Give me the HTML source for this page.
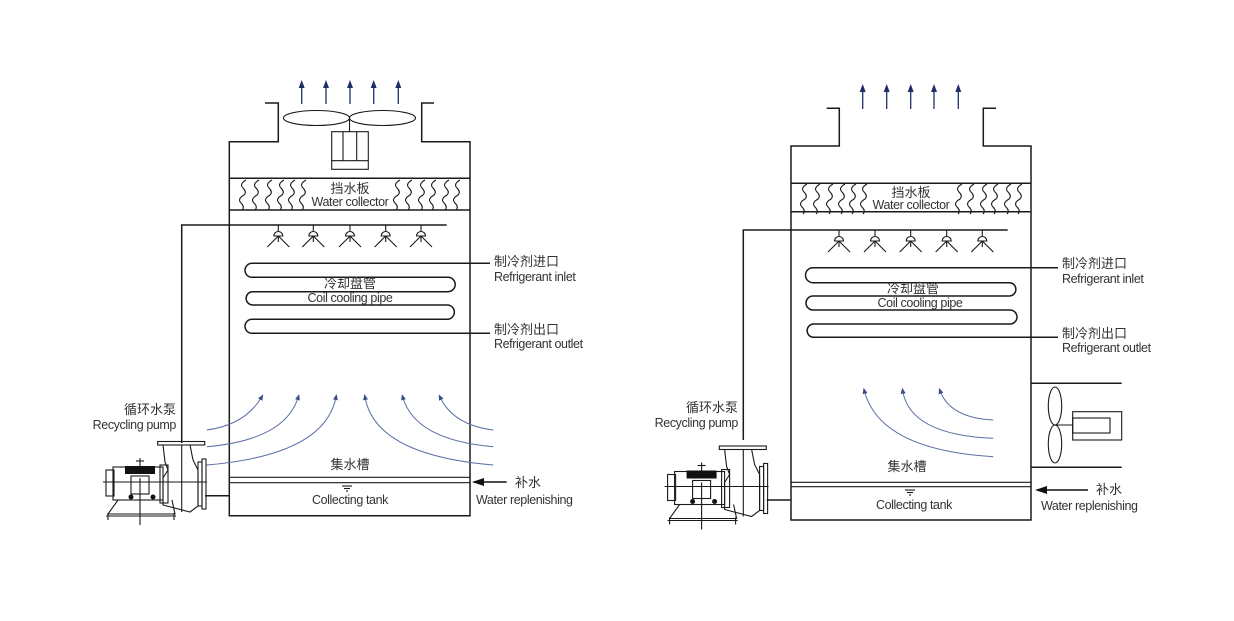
<!DOCTYPE html>
<html><head><meta charset="utf-8"><style>
html,body{margin:0;padding:0;background:#fff;}
svg{display:block;}
text{font-family:"Liberation Sans","Noto Sans CJK SC",sans-serif;fill:#333;}
.l{stroke:#1a1a1a;stroke-width:1.5;fill:none;}
.t{stroke:#1a1a1a;stroke-width:1.1;fill:none;}
.air{stroke:#5a6fa4;stroke-width:1;fill:none;}
.up{stroke:#1f2f66;stroke-width:1.3;fill:none;}
</style></head><body>
<svg width="1234" height="621" viewBox="0 0 1234 621" xmlns="http://www.w3.org/2000/svg">
<defs>
<marker id="ah" markerWidth="8" markerHeight="8" refX="4" refY="4" orient="auto" markerUnits="userSpaceOnUse">
<path d="M0,1 L8,4 L0,7 Z" fill="#1f2f66"/></marker>
<marker id="aa" markerWidth="6" markerHeight="6" refX="3" refY="3" orient="auto" markerUnits="userSpaceOnUse">
<path d="M0,0.5 L6,3 L0,5.5 Z" fill="#3a4f88"/></marker>
<marker id="ak" markerWidth="12" markerHeight="10" refX="10" refY="5" orient="auto" markerUnits="userSpaceOnUse">
<path d="M0,1 L12,5 L0,9 Z" fill="#111"/></marker>
<g id="noz">
<line class="t" x1="0" y1="0" x2="0" y2="6"/>
<path class="t" d="M-4.5,11 A4.5,4.5 0 1 1 4.5,11 Z"/>
<line class="t" x1="0" y1="11" x2="-11" y2="22"/>
<line class="t" x1="0" y1="11" x2="11" y2="22"/>
<line class="t" x1="0" y1="11" x2="0" y2="17"/>
</g>
<path id="wv" class="t" d="M2,180 q-7,4 -3,8 q4,4 1,7 q-7,4 -3,8 q4,4 1,7"/>
<g id="pump">
<rect x="157.7" y="441.5" width="47" height="3.5" class="t"/>
<path class="t" d="M163,445 L165,462 L168,470 L163,478 L163,505 L190,512 L198,506 L198,470 L193,460 L190,445"/>
<line class="t" x1="181.7" y1="445" x2="181.7" y2="512"/>
<rect x="198" y="462" width="4" height="44" class="t"/>
<rect x="202" y="459" width="4" height="50" class="t"/>
<rect x="113" y="467" width="50" height="33" class="t"/>
<rect x="106" y="470" width="8" height="26" class="t"/>
<rect x="125" y="466" width="30" height="8" fill="#111"/>
<line class="t" x1="140" y1="458" x2="140" y2="466"/>
<line class="t" x1="136" y1="461" x2="144" y2="461"/>
<rect x="131" y="476" width="18" height="18" class="t"/>
<rect x="160" y="465" width="8" height="38" class="t"/>
<circle cx="131" cy="497" r="2.5" fill="#111"/><circle cx="153" cy="497" r="2.5" fill="#111"/>
<line class="t" x1="103" y1="482" x2="207" y2="482"/>
<line class="t" x1="140" y1="478" x2="140" y2="525"/>
<path class="t" d="M118,500 L108,514 L175,514 L172,500"/>
<line class="t" x1="106" y1="516" x2="176" y2="516"/>
<line class="t" x1="108" y1="513" x2="108" y2="520"/><line class="t" x1="174" y1="513" x2="174" y2="520"/>
</g>
</defs>

<!-- ================= LEFT ================= -->
<g>
<path class="l" d="M265,103 H278.3 V141.7 H229.3 V515.7 H470 V141.7 H421.7 V103 H434"/>
<g class="up">
<line x1="301.7" y1="104" x2="301.7" y2="84" marker-end="url(#ah)"/>
<line x1="326" y1="104" x2="326" y2="84" marker-end="url(#ah)"/>
<line x1="350" y1="104" x2="350" y2="84" marker-end="url(#ah)"/>
<line x1="373.7" y1="104" x2="373.7" y2="84" marker-end="url(#ah)"/>
<line x1="398.3" y1="104" x2="398.3" y2="84" marker-end="url(#ah)"/>
</g>
<ellipse class="t" cx="316.5" cy="118" rx="33" ry="7.5"/>
<ellipse class="t" cx="382.5" cy="118" rx="33" ry="7.5"/>
<line class="t" x1="349.5" y1="118" x2="349.5" y2="131.7"/>
<rect class="t" x="331.7" y="131.7" width="36.6" height="37.6"/>
<line class="t" x1="331.7" y1="160.7" x2="368.3" y2="160.7"/>
<line class="t" x1="343" y1="131.7" x2="343" y2="160.7"/>
<line class="t" x1="356.7" y1="131.7" x2="356.7" y2="160.7"/>
<line class="l" x1="229.3" y1="178.3" x2="470" y2="178.3"/>
<line class="l" x1="229.3" y1="210" x2="470" y2="210"/>
<use href="#wv" x="244"/><use href="#wv" x="257"/><use href="#wv" x="270"/><use href="#wv" x="282"/><use href="#wv" x="293"/><use href="#wv" x="304"/>
<use href="#wv" x="398"/><use href="#wv" x="410"/><use href="#wv" x="423"/><use href="#wv" x="434"/><use href="#wv" x="447"/><use href="#wv" x="458"/>
<text x="350" y="193" font-size="13" text-anchor="middle">挡水板</text>
<text x="350" y="206" font-size="12.5" text-anchor="middle" letter-spacing="-0.4">Water collector</text>
<path class="l" d="M446.7,225 H181.7 V443"/>
<use href="#noz" x="278.3" y="225"/><use href="#noz" x="313.3" y="225"/><use href="#noz" x="350" y="225"/><use href="#noz" x="385.7" y="225"/><use href="#noz" x="421" y="225"/>
<path class="l" d="M490,263.3 H252 A7,7 0 0 0 252,277.3 H448 A7.2,7.2 0 0 1 448,291.7 H252 A6.7,6.7 0 0 0 252,305 H448 A7.2,7.2 0 0 1 448,319.3 H252 A7,7 0 0 0 252,333.3 H490"/>
<text x="350" y="288" font-size="13" text-anchor="middle">冷却盘管</text>
<text x="350" y="302" font-size="12.5" text-anchor="middle" letter-spacing="-0.4">Coil cooling pipe</text>
<text x="494" y="266" font-size="13">制冷剂进口</text>
<text x="494" y="281" font-size="12.5" letter-spacing="-0.4">Refrigerant inlet</text>
<text x="494" y="334" font-size="13">制冷剂出口</text>
<text x="494" y="348" font-size="12.5" letter-spacing="-0.4">Refrigerant outlet</text>
<g class="air">
<path d="M206.7,430 Q245,425 261.7,397" marker-end="url(#aa)"/>
<path d="M206.7,446.7 Q285,440 298.3,397" marker-end="url(#aa)"/>
<path d="M206.7,465 Q325,455 336,397" marker-end="url(#aa)"/>
<path d="M493.3,465 Q375,455 365,397" marker-end="url(#aa)"/>
<path d="M493.3,446.7 Q415,440 402.7,397" marker-end="url(#aa)"/>
<path d="M493.3,430 Q453,425 440,397" marker-end="url(#aa)"/>
</g>
<line class="t" x1="229.3" y1="477.3" x2="470" y2="477.3"/>
<line class="t" x1="229.3" y1="482.7" x2="470" y2="482.7"/>
<g class="t"><line x1="342" y1="486" x2="352" y2="486"/><line x1="344" y1="488.5" x2="350" y2="488.5"/><line x1="346" y1="491" x2="348" y2="491"/></g>
<text x="350" y="469" font-size="13" text-anchor="middle">集水槽</text>
<text x="350" y="504" font-size="12.5" text-anchor="middle" letter-spacing="-0.4">Collecting tank</text>
<line x1="506.7" y1="482" x2="474" y2="482" stroke="#111" stroke-width="1.5" marker-end="url(#ak)"/>
<text x="515" y="487" font-size="13">补水</text>
<text x="476" y="504" font-size="12.5" letter-spacing="-0.4">Water replenishing</text>
<line class="l" x1="205" y1="495.7" x2="229.3" y2="495.7"/>
<text x="176" y="414" font-size="13" text-anchor="end">循环水泵</text>
<text x="176" y="429" font-size="12.5" text-anchor="end" letter-spacing="-0.4">Recycling pump</text>
<use href="#pump"/>
</g>

<!-- ================= RIGHT ================= -->
<g>
<path class="l" d="M826.7,108.3 H839.3 V146 H791 V520 H1031 V146 H983.3 V108.3 H996"/>
<g class="up">
<line x1="862.7" y1="109" x2="862.7" y2="88" marker-end="url(#ah)"/>
<line x1="886.7" y1="109" x2="886.7" y2="88" marker-end="url(#ah)"/>
<line x1="910.7" y1="109" x2="910.7" y2="88" marker-end="url(#ah)"/>
<line x1="934" y1="109" x2="934" y2="88" marker-end="url(#ah)"/>
<line x1="958.3" y1="109" x2="958.3" y2="88" marker-end="url(#ah)"/>
</g>
<line class="l" x1="791" y1="183.3" x2="1031" y2="183.3"/>
<line class="l" x1="791" y1="211.7" x2="1031" y2="211.7"/>
<g transform="translate(0,4)">
<use href="#wv" x="805"/><use href="#wv" x="818"/><use href="#wv" x="831"/><use href="#wv" x="843"/><use href="#wv" x="854"/><use href="#wv" x="865"/>
<use href="#wv" x="960"/><use href="#wv" x="972"/><use href="#wv" x="985"/><use href="#wv" x="996"/><use href="#wv" x="1009"/><use href="#wv" x="1020"/>
</g>
<text x="911" y="197" font-size="13" text-anchor="middle">挡水板</text>
<text x="911" y="209" font-size="12.5" text-anchor="middle" letter-spacing="-0.4">Water collector</text>
<path class="l" d="M1007.7,230 H743.3 V440"/>
<use href="#noz" x="839" y="230"/><use href="#noz" x="875" y="230"/><use href="#noz" x="910.7" y="230"/><use href="#noz" x="946.7" y="230"/><use href="#noz" x="982.3" y="230"/>
<path class="l" d="M1058,267.7 H813 A7.5,7.5 0 0 0 813,282.7 H1010 A6.7,6.7 0 0 1 1010,296 H813 A7,7 0 0 0 813,310 H1010 A7,7 0 0 1 1010,324 H813 A6.7,6.7 0 0 0 813,337.3 H1058"/>
<text x="913" y="293" font-size="13" text-anchor="middle">冷却盘管</text>
<text x="920" y="307" font-size="12.5" text-anchor="middle" letter-spacing="-0.4">Coil cooling pipe</text>
<text x="1062" y="268" font-size="13">制冷剂进口</text>
<text x="1062" y="283" font-size="12.5" letter-spacing="-0.4">Refrigerant inlet</text>
<text x="1062" y="338" font-size="13">制冷剂出口</text>
<text x="1062" y="352" font-size="12.5" letter-spacing="-0.4">Refrigerant outlet</text>
<g class="air">
<path d="M993.3,456.7 Q880,450 864.3,390.7" marker-end="url(#aa)"/>
<path d="M993.3,438.3 Q910,435 902.7,390.7" marker-end="url(#aa)"/>
<path d="M993.3,420 Q950,418 940,390.7" marker-end="url(#aa)"/>
</g>
<line class="l" x1="1031" y1="383.3" x2="1121.7" y2="383.3"/>
<line class="l" x1="1031" y1="467.3" x2="1121.7" y2="467.3"/>
<ellipse class="t" cx="1055" cy="406" rx="6.7" ry="19"/>
<ellipse class="t" cx="1055" cy="444" rx="6.7" ry="19"/>
<line class="t" x1="1055" y1="425" x2="1072.7" y2="425"/>
<rect class="t" x="1072.7" y="411.7" width="49" height="28.3"/>
<rect class="t" x="1072.7" y="418" width="37.3" height="15"/>
<line class="t" x1="791" y1="482.3" x2="1031" y2="482.3"/>
<line class="t" x1="791" y1="486.7" x2="1031" y2="486.7"/>
<g class="t"><line x1="905" y1="490" x2="915" y2="490"/><line x1="907" y1="492.5" x2="913" y2="492.5"/><line x1="909" y1="495" x2="911" y2="495"/></g>
<text x="907" y="471" font-size="13" text-anchor="middle">集水槽</text>
<text x="914" y="509" font-size="12.5" text-anchor="middle" letter-spacing="-0.4">Collecting tank</text>
<line x1="1088" y1="490" x2="1037" y2="490" stroke="#111" stroke-width="1.5" marker-end="url(#ak)"/>
<text x="1096" y="494" font-size="13">补水</text>
<text x="1041" y="510" font-size="12.5" letter-spacing="-0.4">Water replenishing</text>
<line class="l" x1="766.7" y1="500" x2="791" y2="500"/>
<text x="738" y="412" font-size="13" text-anchor="end">循环水泵</text>
<text x="738" y="427" font-size="12.5" text-anchor="end" letter-spacing="-0.4">Recycling pump</text>
<use href="#pump" transform="translate(561.6,4.5)"/>
</g>
</svg>
</body></html>
